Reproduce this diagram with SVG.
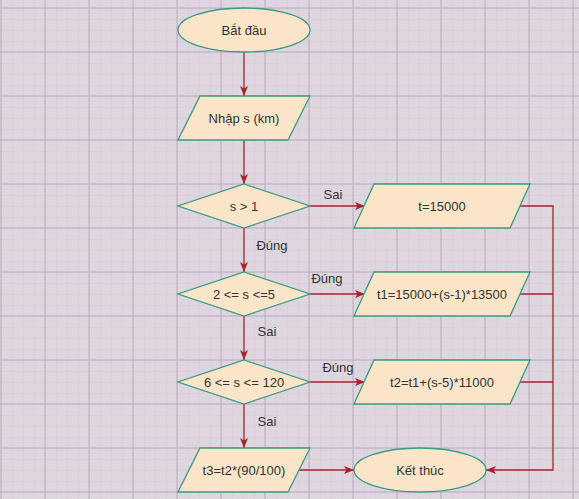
<svg xmlns="http://www.w3.org/2000/svg" width="579" height="499" viewBox="0 0 579 499">
<defs>
<pattern id="minor" x="1" y="8" width="11" height="11" patternUnits="userSpaceOnUse">
<path d="M0 0H11M0 0V11" fill="none" stroke="#d3c9d4" stroke-width="1"/>
</pattern>
<pattern id="major" x="0.5" y="7.5" width="44" height="44" patternUnits="userSpaceOnUse">
<path d="M0 0.5H44M0.5 0V44" fill="none" stroke="#b9adba" stroke-width="1"/>
</pattern>
<marker id="arr" viewBox="0 0 10 10" refX="10" refY="5" markerWidth="10" markerHeight="10" markerUnits="userSpaceOnUse" orient="auto">
<path d="M0 1 L10 5 L0 9 L2.5 5 Z" fill="#a8222b"/>
</marker>
</defs>
<style>
.shape{fill:#fbe5c9;stroke:#3b9a86;stroke-width:1.3}
.t{font-family:"Liberation Sans",Arial,sans-serif;font-size:13px;fill:#333;text-anchor:middle;dominant-baseline:central}
.lbl{font-family:"Liberation Sans",Arial,sans-serif;font-size:13px;fill:#333;text-anchor:middle;dominant-baseline:central}
.c{fill:none;stroke:#a8222b;stroke-width:1.3}
</style>
<rect width="579" height="499" fill="#ded6df"/>
<rect width="579" height="499" fill="url(#minor)"/>
<rect width="579" height="499" fill="url(#major)"/>

<g id="connectors">
<path class="c" d="M244 52V96" marker-end="url(#arr)"/>
<path class="c" d="M244 140V184" marker-end="url(#arr)"/>
<path class="c" d="M310 206H365" marker-end="url(#arr)"/>
<path class="c" d="M244 228V272" marker-end="url(#arr)"/>
<path class="c" d="M310 294H365" marker-end="url(#arr)"/>
<path class="c" d="M244 316V360" marker-end="url(#arr)"/>
<path class="c" d="M310 382H365" marker-end="url(#arr)"/>
<path class="c" d="M244 404V448" marker-end="url(#arr)"/>
<path class="c" d="M299 470H354" marker-end="url(#arr)"/>
<path class="c" d="M519 206H553V470H486" marker-end="url(#arr)"/>
<path class="c" d="M519 294H553"/>
<path class="c" d="M519 382H553"/>
<text class="lbl" x="333" y="194">Sai</text>
<text class="lbl" x="272" y="245">Đúng</text>
<text class="lbl" x="327" y="278">Đúng</text>
<text class="lbl" x="267" y="331">Sai</text>
<text class="lbl" x="338" y="367">Đúng</text>
<text class="lbl" x="267" y="421">Sai</text>
</g>

<g id="start">
<ellipse class="shape" cx="244" cy="30" rx="66" ry="22"/>
<text class="t" x="244" y="30">Bắt đầu</text>
</g>
<g id="input">
<path class="shape" d="M200 96H310L288 140H178Z"/>
<text class="t" x="244" y="118">Nhập s (km)</text>
</g>
<g id="cond1">
<path class="shape" d="M244 184L310 206L244 228L178 206Z"/>
<text class="t" x="244" y="206">s &gt; 1</text>
</g>
<g id="out1">
<path class="shape" d="M374 184H530L510 228H354Z"/>
<text class="t" x="442" y="206">t=15000</text>
</g>
<g id="cond2">
<path class="shape" d="M244 272L310 294L244 316L178 294Z"/>
<text class="t" x="244" y="294">2 &lt;= s &lt;=5</text>
</g>
<g id="out2">
<path class="shape" d="M374 272H530L510 316H354Z"/>
<text class="t" x="442" y="294">t1=15000+(s-1)*13500</text>
</g>
<g id="cond3">
<path class="shape" d="M244 360L310 382L244 404L178 382Z"/>
<text class="t" x="244" y="382">6 &lt;= s &lt;= 120</text>
</g>
<g id="out3">
<path class="shape" d="M374 360H530L510 404H354Z"/>
<text class="t" x="442" y="382">t2=t1+(s-5)*11000</text>
</g>
<g id="out4">
<path class="shape" d="M200 448H310L288 492H178Z"/>
<text class="t" x="244" y="470">t3=t2*(90/100)</text>
</g>
<g id="end">
<ellipse class="shape" cx="420" cy="470" rx="66" ry="22"/>
<text class="t" x="420" y="470">Kết thúc</text>
</g>
</svg>
